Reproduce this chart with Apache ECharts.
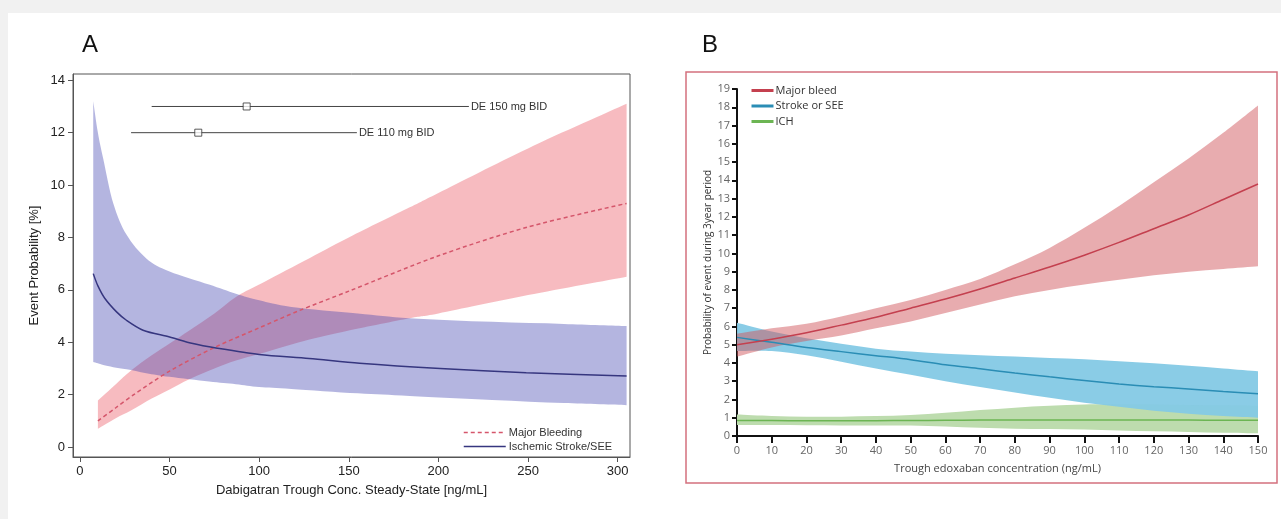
<!DOCTYPE html>
<html>
<head>
<meta charset="utf-8">
<script src="https://cdn.jsdelivr.net/npm/echarts@6/dist/echarts.min.js"></script>
<style>
html,body{margin:0;padding:0;}
#bg{position:absolute;left:0;top:0;width:1281px;height:519px;background:#f1f1f1;}
#bgw{position:absolute;left:8px;top:13px;right:0;bottom:0;background:#fff;}
#main{position:absolute;left:0;top:0;width:1281px;height:519px;}
</style>
</head>
<body>
<div id="bg"><div id="bgw"></div></div>
<div id="main"></div>
<script>
// ---------- Panel A: Dabigatran ----------
const aXTicks = [0, 50, 100, 150, 200, 250, 300];
const aYTicks = [0, 2, 4, 6, 8, 10, 12, 14];

const strokeBandX     = [7.4, 10, 13, 18.6, 26, 37, 50, 72, 87, 100, 118, 155, 184, 230, 270, 305];
const strokeBandUpper = [13.2, 12.0, 11.0, 9.3, 8.1, 7.2, 6.7, 6.2, 5.85, 5.6, 5.35, 5.1, 4.92, 4.78, 4.7, 4.62];
const strokeBandLower = [3.25, 3.2, 3.13, 3.05, 2.97, 2.82, 2.68, 2.5, 2.4, 2.29, 2.22, 2.05, 1.95, 1.8, 1.68, 1.6];
const strokeLineX     = [7.4, 10, 13.9, 20.4, 25.9, 35.2, 50, 63, 75.9, 100, 127.8, 156, 201, 249, 305];
const strokeLineY     = [6.62, 6.15, 5.67, 5.16, 4.84, 4.46, 4.2, 3.95, 3.78, 3.53, 3.38, 3.2, 3.0, 2.84, 2.71];

const bleedBandX     = [10, 20, 28.7, 40, 50, 61, 75, 87, 100, 125, 150, 184, 200, 250, 305];
const bleedBandUpper = [1.78, 2.4, 2.93, 3.5, 3.95, 4.45, 5.1, 5.73, 6.2, 7.1, 8.0, 9.15, 9.7, 11.4, 13.1];
const bleedBandLower = [0.7, 1.1, 1.4, 1.85, 2.2, 2.59, 3.0, 3.3, 3.55, 4.05, 4.45, 4.92, 5.1, 5.8, 6.5];
const bleedLineX     = [10, 20, 30, 50, 75, 100, 122, 150, 200, 250, 305];
const bleedLineY     = [1.0, 1.5, 2.0, 2.9, 3.8, 4.55, 5.2, 5.95, 7.3, 8.4, 9.3];

const deLabels = ['DE 150 mg BID', 'DE 110 mg BID'];
const deLevel  = [13, 12];
const deLow    = [40, 28.5];
const deHigh   = [217, 154.5];
const deMedian = [93, 66];

// ---------- Panel B: Edoxaban ----------
const bX = [0, 10, 20, 30, 40, 50, 60, 70, 80, 90, 100, 110, 120, 130, 140, 150];
const bleedBMean  = [5.0, 5.3, 5.65, 6.07, 6.5, 7.0, 7.5, 8.05, 8.65, 9.25, 9.9, 10.6, 11.35, 12.1, 12.95, 13.8];
const bleedBUpper = [5.6, 5.9, 6.15, 6.55, 7.0, 7.45, 8.0, 8.6, 9.4, 10.3, 11.4, 12.6, 13.9, 15.2, 16.6, 18.1];
const bleedBLower = [4.35, 4.85, 5.2, 5.5, 5.9, 6.27, 6.73, 7.2, 7.65, 8.0, 8.3, 8.55, 8.8, 9.0, 9.15, 9.3];
const strokeBMean  = [5.4, 5.13, 4.85, 4.62, 4.4, 4.18, 3.9, 3.68, 3.45, 3.24, 3.04, 2.85, 2.7, 2.58, 2.44, 2.31];
const strokeBUpper = [6.2, 5.72, 5.35, 5.05, 4.78, 4.62, 4.5, 4.42, 4.35, 4.27, 4.2, 4.09, 3.98, 3.85, 3.7, 3.55];
const strokeBLower = [4.65, 4.65, 4.42, 4.07, 3.7, 3.35, 3.0, 2.68, 2.38, 2.09, 1.82, 1.6, 1.38, 1.22, 1.09, 1.0];
const ichMean  = [0.85, 0.85, 0.83, 0.83, 0.84, 0.85, 0.86, 0.87, 0.87, 0.88, 0.88, 0.88, 0.87, 0.87, 0.86, 0.86];
const ichUpper = [1.18, 1.1, 1.05, 1.06, 1.09, 1.15, 1.27, 1.42, 1.55, 1.65, 1.73, 1.73, 1.72, 1.7, 1.68, 1.65];
const ichLower = [0.6, 0.6, 0.59, 0.58, 0.58, 0.57, 0.52, 0.45, 0.4, 0.38, 0.36, 0.3, 0.26, 0.22, 0.18, 0.15];

// ---------- helpers ----------
function pairs(xs, ys) { return xs.map((x, i) => [x, ys[i]]); }
// Catmull-Rom spline through pixel points as cubic bezier commands
function curveCmds(pts) {
  let s = '';
  for (let i = 0; i < pts.length - 1; i++) {
    const p0 = pts[i - 1] || pts[i], p1 = pts[i], p2 = pts[i + 1], p3 = pts[i + 2] || pts[i + 1];
    const c1 = [p1[0] + (p2[0] - p0[0]) / 6, p1[1] + (p2[1] - p0[1]) / 6];
    const c2 = [p2[0] - (p3[0] - p1[0]) / 6, p2[1] - (p3[1] - p1[1]) / 6];
    s += ' C' + c1[0].toFixed(2) + ',' + c1[1].toFixed(2) + ' ' + c2[0].toFixed(2) + ',' + c2[1].toFixed(2) + ' ' + p2[0].toFixed(2) + ',' + p2[1].toFixed(2);
  }
  return s;
}
function band(id, xs, lo, hi, color, gi) {
  return {
    type: 'custom', name: id, xAxisIndex: gi, yAxisIndex: gi, silent: true, clip: true,
    data: xs.map((x, i) => [x, lo[i], hi[i]]),
    encode: { x: 0, y: [1, 2] },
    renderItem: function (params, api) {
      if (params.dataIndex !== 0) return null;
      const up = xs.map((x, i) => api.coord([x, hi[i]]));
      const dn = xs.map((x, i) => api.coord([x, lo[i]])).reverse();
      const d = 'M' + up[0][0] + ',' + up[0][1] + curveCmds(up) +
                ' L' + dn[0][0] + ',' + dn[0][1] + curveCmds(dn) + ' Z';
      return { type: 'path', shape: { pathData: d }, style: { fill: color } };
    }
  };
}
function meanLine(name, xs, ys, color, width, type, gi) {
  return { type: 'line', name: name, xAxisIndex: gi, yAxisIndex: gi, data: pairs(xs, ys),
    symbol: 'none', smooth: 0.3, z: 5,
    lineStyle: { color: color, width: width, type: type }, itemStyle: { color: color } };
}

const fA = "'Liberation Sans', Arial, sans-serif";
const fB = "'Liberation Sans Narrow', 'Open Sans', 'Liberation Sans', sans-serif";

const series = [];
// Panel A bands
series.push(band('bleedA', bleedBandX, bleedBandLower, bleedBandUpper, 'rgba(240,120,130,0.5)', 0));
series.push(band('strokeA', strokeBandX, strokeBandLower, strokeBandUpper, 'rgba(63,65,176,0.39)', 0));
series.push(meanLine('Major Bleeding', bleedLineX, bleedLineY, '#d5566b', 1.5, [4, 3], 0));
series.push(meanLine('Ischemic Stroke/SEE', strokeLineX, strokeLineY, '#36367f', 1.5, 'solid', 0));
// DE dose ranges
deLabels.forEach((lab, i) => {
  series.push({ type: 'line', name: lab, xAxisIndex: 0, yAxisIndex: 0, symbol: 'none', z: 6,
    lineStyle: { color: '#444', width: 1 },
    data: [[deLow[i], deLevel[i]], [deHigh[i], deLevel[i]]],
    endLabel: { show: true, formatter: lab, distance: 2, fontSize: 11, color: '#333', fontFamily: fA } });
  series.push({ type: 'scatter', name: lab + '_m', xAxisIndex: 0, yAxisIndex: 0, z: 7,
    symbol: 'rect', symbolSize: 7, data: [[deMedian[i], deLevel[i]]],
    itemStyle: { color: '#fff', borderColor: '#333', borderWidth: 1 } });
});
// Panel B bands
series.push(band('ichB', bX, ichLower, ichUpper, '#bddcae', 1));
series.push(band('strokeB', bX, strokeBLower, strokeBUpper, 'rgba(132,201,229,0.95)', 1));
series.push(band('bleedB', bX, bleedBLower, bleedBUpper, 'rgba(210,90,95,0.5)', 1));
series.push(meanLine('ICH', bX, ichMean, '#6cb553', 1.5, 'solid', 1));
series.push(meanLine('Stroke or SEE', bX, strokeBMean, '#2a8db5', 1.5, 'solid', 1));
series.push(meanLine('Major bleed', bX, bleedBMean, '#c4404f', 1.5, 'solid', 1));

const chart = echarts.init(document.getElementById('main'), null, { renderer: 'canvas' });
chart.setOption({
  animation: false,
  backgroundColor: 'transparent',
  title: [
    { text: 'A', left: 77, top: 28, textStyle: { fontSize: 24, fontWeight: 'normal', color: '#111', fontFamily: fA } },
    { text: 'B', left: 697, top: 28, textStyle: { fontSize: 24, fontWeight: 'normal', color: '#111', fontFamily: fA } }
  ],
  legend: [
    { data: ['Major Bleeding', 'Ischemic Stroke/SEE'], orient: 'vertical', left: 458, top: 422,
      itemWidth: 42, itemHeight: 10, itemGap: 3, selectedMode: false,
      itemStyle: { opacity: 0 }, lineStyle: { width: 1.5 },
      textStyle: { fontSize: 11, color: '#333', fontFamily: fA, padding: [0, 0, 0, -2] } },
    { data: ['Major bleed', 'Stroke or SEE', 'ICH'], orient: 'vertical', left: 745, top: 80,
      itemWidth: 22, itemHeight: 10, itemGap: 4.5, selectedMode: false,
      itemStyle: { opacity: 0 }, lineStyle: { width: 3 },
      textStyle: { fontSize: 11, color: '#333', fontFamily: fB, padding: [0, 0, 0, -3] } }
  ],
  grid: [
    { left: 73, top: 74, width: 557, height: 383, show: true, borderColor: '#555', borderWidth: 1, backgroundColor: 'transparent' },
    { left: 737, top: 89, width: 521, height: 347 }
  ],
  xAxis: [
    { type: 'value', gridIndex: 0, min: -3.9, max: 306.9,
      name: 'Dabigatran Trough Conc. Steady-State [ng/mL]', nameLocation: 'middle', nameGap: 27,
      nameTextStyle: { fontSize: 13, color: '#222', fontFamily: fA },
      axisLine: { show: true, onZero: false, lineStyle: { color: '#555' } },
      axisTick: { show: true, length: 5, customValues: aXTicks, lineStyle: { color: '#555' } },
      axisLabel: { customValues: aXTicks, fontSize: 13, color: '#222', margin: 8, fontFamily: fA },
      splitLine: { show: false } },
    { type: 'value', gridIndex: 1, min: 0, max: 150, interval: 10,
      name: 'Trough edoxaban concentration (ng/mL)', nameLocation: 'middle', nameGap: 27,
      nameTextStyle: { fontSize: 11, color: '#444', fontFamily: fB },
      axisLine: { show: true, onZero: false, lineStyle: { color: '#111', width: 2 } },
      axisTick: { show: true, length: 7, lineStyle: { color: '#111', width: 2 } },
      axisLabel: { fontSize: 11, color: '#666', margin: 9, fontFamily: fB },
      splitLine: { show: false } }
  ],
  yAxis: [
    { type: 'value', gridIndex: 0, min: -0.38, max: 14.24,
      name: 'Event Probability [%]', nameLocation: 'middle', nameGap: 32,
      nameTextStyle: { fontSize: 13, color: '#222', fontFamily: fA },
      axisLine: { show: true, onZero: false, lineStyle: { color: '#555' } },
      axisTick: { show: true, length: 5, customValues: aYTicks, lineStyle: { color: '#555' } },
      axisLabel: { customValues: aYTicks, fontSize: 13, color: '#222', margin: 8, fontFamily: fA },
      splitLine: { show: false } },
    { type: 'value', gridIndex: 1, min: 0, max: 19, interval: 1,
      name: 'Probability of event during 3year period', nameLocation: 'middle', nameGap: 24,
      nameTextStyle: { fontSize: 10, color: '#333', fontFamily: fB },
      axisLine: { show: true, onZero: false, lineStyle: { color: '#111', width: 2 } },
      axisTick: { show: true, length: 5, lineStyle: { color: '#111', width: 2 } },
      axisLabel: { fontSize: 11, color: '#666', margin: 7, fontFamily: fB },
      splitLine: { show: false } }
  ],
  graphic: [
    { type: 'rect', shape: { x: 686, y: 72, width: 591, height: 411 }, silent: true, z: 0,
      style: { fill: 'none', stroke: '#d4707e', lineWidth: 1.5 } }
  ],
  series: series
});
</script>
</body>
</html>
